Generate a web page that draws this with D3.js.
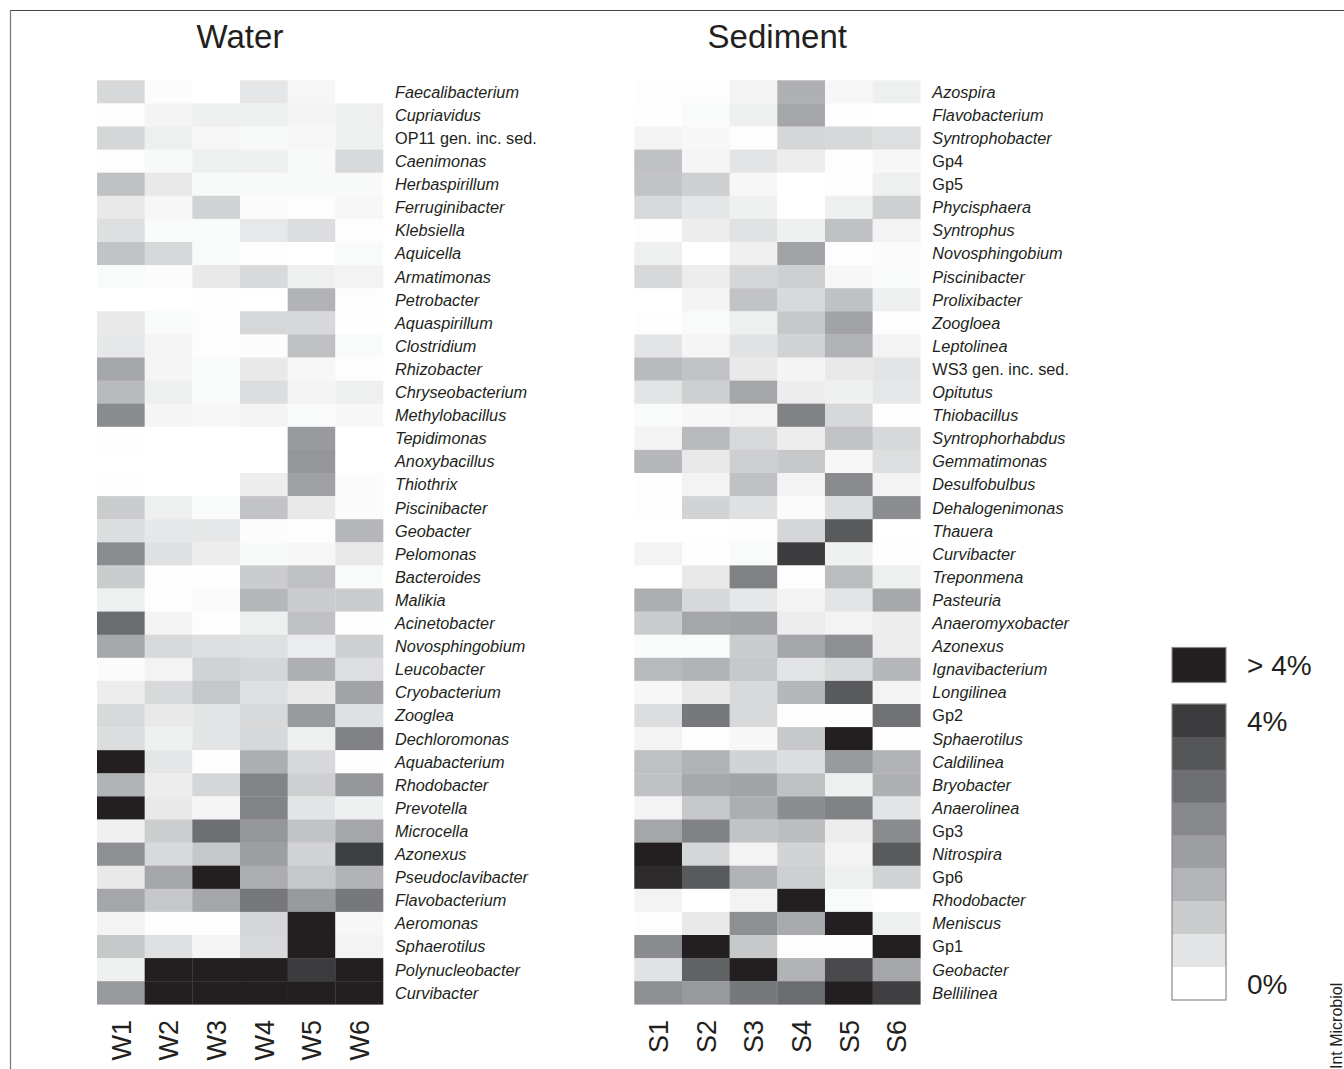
<!DOCTYPE html>
<html>
<head>
<meta charset="utf-8">
<script src="https://cdn.jsdelivr.net/npm/d3@7"></script>
<style>
  body { margin: 0; background: #fff; }
  svg { display: block; font-family: "Liberation Sans", Arial, Helvetica, sans-serif; }
  .row-label { font-size: 16.3px; fill: #231f20; }
  .col-label { font-size: 27px; fill: #231f20; }
  .title { font-size: 33px; fill: #231f20; }
  .legend-label { font-size: 28px; fill: #231f20; }
</style>
</head>
<body>
<svg class="chart"></svg>
<script>
var width = 1344;
var height = 1069;

// samples
var waterSamples = ["W1", "W2", "W3", "W4", "W5", "W6"];
var sedimentSamples = ["S1", "S2", "S3", "S4", "S5", "S6"];

// genera, top to bottom
var waterTaxa = ["Faecalibacterium", "Cupriavidus", "OP11 gen. inc. sed.", "Caenimonas", "Herbaspirillum",
    "Ferruginibacter", "Klebsiella", "Aquicella", "Armatimonas", "Petrobacter", "Aquaspirillum", "Clostridium",
    "Rhizobacter", "Chryseobacterium", "Methylobacillus", "Tepidimonas", "Anoxybacillus", "Thiothrix",
    "Piscinibacter", "Geobacter", "Pelomonas", "Bacteroides", "Malikia", "Acinetobacter", "Novosphingobium",
    "Leucobacter", "Cryobacterium", "Zooglea", "Dechloromonas", "Aquabacterium", "Rhodobacter", "Prevotella",
    "Microcella", "Azonexus", "Pseudoclavibacter", "Flavobacterium", "Aeromonas", "Sphaerotilus",
    "Polynucleobacter", "Curvibacter"];

var sedimentTaxa = ["Azospira", "Flavobacterium", "Syntrophobacter", "Gp4", "Gp5", "Phycisphaera", "Syntrophus",
    "Novosphingobium", "Piscinibacter", "Prolixibacter", "Zoogloea", "Leptolinea", "WS3 gen. inc. sed.",
    "Opitutus", "Thiobacillus", "Syntrophorhabdus", "Gemmatimonas", "Desulfobulbus", "Dehalogenimonas",
    "Thauera", "Curvibacter", "Treponmena", "Pasteuria", "Anaeromyxobacter", "Azonexus", "Ignavibacterium",
    "Longilinea", "Gp2", "Sphaerotilus", "Caldilinea", "Bryobacter", "Anaerolinea", "Gp3", "Nitrospira", "Gp6",
    "Rhodobacter", "Meniscus", "Gp1", "Geobacter", "Bellilinea"];

// names that are not set in italics
var plainNames = ["OP11 gen. inc. sed.", "WS3 gen. inc. sed.", "Gp1", "Gp2", "Gp3", "Gp4", "Gp5", "Gp6"];

// relative abundance (%), one row per genus, columns W1..W6
var waterValues = [
    [0.76, 0.06, 0, 0.47, 0.16, 0],
    [0.04, 0.2, 0.3, 0.3, 0.2, 0.3],
    [0.8, 0.3, 0.16, 0.12, 0.14, 0.28],
    [0.04, 0.12, 0.3, 0.28, 0.12, 0.72],
    [1.22, 0.4, 0.12, 0.12, 0.12, 0.12],
    [0.4, 0.14, 0.85, 0.08, 0.04, 0.14],
    [0.6, 0.1, 0.1, 0.43, 0.64, 0.04],
    [1.18, 0.76, 0.1, 0.04, 0, 0.1],
    [0.1, 0.06, 0.4, 0.72, 0.3, 0.22],
    [0, 0, 0.02, 0, 1.53, 0.04],
    [0.4, 0.1, 0.04, 0.78, 0.76, 0.02],
    [0.45, 0.18, 0.04, 0.06, 1.26, 0.1],
    [1.81, 0.18, 0.1, 0.4, 0.14, 0.04],
    [1.38, 0.3, 0.1, 0.64, 0.2, 0.3],
    [2.43, 0.18, 0.14, 0.2, 0.1, 0.14],
    [0.04, 0, 0, 0, 2.1, 0],
    [0, 0, 0, 0, 2.19, 0],
    [0.04, 0, 0, 0.33, 1.94, 0.08],
    [1.01, 0.3, 0.1, 1.18, 0.4, 0.08],
    [0.64, 0.45, 0.45, 0.06, 0.04, 1.44],
    [2.41, 0.58, 0.33, 0.12, 0.16, 0.4],
    [1.01, 0.04, 0.04, 1.01, 1.22, 0.1],
    [0.3, 0.02, 0.08, 1.44, 1.01, 0.99],
    [3.05, 0.2, 0.04, 0.3, 1.22, 0.02],
    [1.77, 0.72, 0.62, 0.58, 0.35, 0.93],
    [0.08, 0.22, 0.87, 0.8, 1.59, 0.62],
    [0.33, 0.72, 1.11, 0.58, 0.4, 1.88],
    [0.72, 0.4, 0.5, 0.72, 2.1, 0.58],
    [0.64, 0.3, 0.5, 0.76, 0.3, 2.62],
    [6, 0.47, 0.04, 1.63, 0.76, 0.02],
    [1.53, 0.33, 0.8, 2.6, 0.93, 2.19],
    [6, 0.4, 0.18, 2.6, 0.5, 0.28],
    [0.27, 0.97, 2.99, 2.19, 1.18, 1.81],
    [2.35, 0.72, 1.11, 2.0, 0.85, 3.95],
    [0.4, 1.81, 6, 1.67, 1.11, 1.53],
    [1.81, 1.11, 1.81, 2.8, 2.1, 2.8],
    [0.22, 0.04, 0.04, 0.8, 6, 0.14],
    [1.09, 0.58, 0.18, 0.72, 6, 0.22],
    [0.3, 6, 6, 6, 4.0, 6],
    [2.1, 6, 6, 6, 6, 6]
];

// columns S1..S6
var sedimentValues = [
    [0.04, 0.04, 0.22, 1.59, 0.14, 0.3],
    [0.02, 0.1, 0.3, 1.81, 0.04, 0],
    [0.22, 0.14, 0.04, 0.8, 0.76, 0.62],
    [1.22, 0.18, 0.5, 0.33, 0.04, 0.14],
    [1.18, 0.93, 0.14, 0, 0.04, 0.3],
    [0.72, 0.47, 0.28, 0, 0.3, 0.93],
    [0.04, 0.33, 0.54, 0.28, 1.22, 0.22],
    [0.3, 0, 0.27, 1.88, 0.04, 0.08],
    [0.76, 0.33, 0.8, 0.93, 0.14, 0.1],
    [0, 0.2, 1.18, 0.72, 1.22, 0.3],
    [0.04, 0.1, 0.3, 1.09, 1.88, 0.04],
    [0.5, 0.18, 0.54, 0.87, 1.55, 0.22],
    [1.38, 1.18, 0.4, 0.2, 0.4, 0.5],
    [0.5, 0.93, 1.81, 0.33, 0.28, 0.45],
    [0.1, 0.14, 0.22, 2.62, 0.76, 0.04],
    [0.22, 1.38, 0.72, 0.33, 1.18, 0.76],
    [1.44, 0.4, 0.93, 1.09, 0.14, 0.62],
    [0.04, 0.22, 1.22, 0.22, 2.43, 0.22],
    [0.04, 0.85, 0.58, 0.08, 0.64, 2.39],
    [0, 0, 0.04, 0.8, 3.42, 0],
    [0.22, 0.04, 0.1, 4.0, 0.28, 0.04],
    [0, 0.4, 2.64, 0.04, 1.32, 0.3],
    [1.63, 0.76, 0.45, 0.22, 0.5, 1.77],
    [1.01, 1.81, 1.88, 0.33, 0.22, 0.33],
    [0.1, 0.1, 0.99, 1.81, 2.35, 0.33],
    [1.38, 1.53, 1.09, 0.5, 0.72, 1.44],
    [0.14, 0.4, 0.72, 1.44, 3.42, 0.22],
    [0.64, 2.8, 0.72, 0.04, 0.04, 2.93],
    [0.22, 0.04, 0.14, 1.09, 6, 0.02],
    [1.26, 1.55, 0.85, 0.64, 2.1, 1.55],
    [1.22, 1.77, 1.88, 1.26, 0.3, 1.59],
    [0.22, 1.09, 1.63, 2.39, 2.62, 0.5],
    [1.81, 2.62, 1.18, 1.32, 0.33, 2.43],
    [6, 0.8, 0.22, 0.85, 0.22, 3.42],
    [4.6, 3.42, 1.53, 0.93, 0.28, 0.85],
    [0.22, 0, 0.22, 6, 0.1, 0],
    [0.04, 0.4, 2.35, 1.73, 6, 0.3],
    [2.43, 6, 1.09, 0.04, 0.04, 6],
    [0.54, 3.26, 6, 1.53, 3.73, 1.81],
    [2.35, 2.1, 2.8, 3.05, 6, 3.94]
];

// legend steps (4% .. 0%) and their labels
var legendSteps = [4, 3.5, 3, 2.5, 2, 1.5, 1, 0.5, 0];
var legendLabels = ["> 4%", "4%", "0%"];

// grey ramp, white at 0 %, dark grey at 4 %, near-black above
var color = d3.scaleLinear()
    .domain([0, 0.5, 1, 1.5, 2, 2.5, 3, 3.5, 4, 5])
    .range(["#ffffff", "#e3e4e5", "#cbccce", "#b3b4b7", "#9d9ea1", "#87888b", "#6d6e71", "#555658", "#3c3c3e", "#231f20"])
    .clamp(true);

var chart = d3.select(".chart")
    .attr("width", width)
    .attr("height", height);

// frame lines top and left
chart.append("line")
    .attr("x1", 10).attr("x2", width).attr("y1", 10.5).attr("y2", 10.5)
    .attr("stroke", "#444").attr("stroke-width", 1.2);
chart.append("line")
    .attr("x1", 10.5).attr("x2", 10.5).attr("y1", 10).attr("y2", height)
    .attr("stroke", "#777").attr("stroke-width", 1.2);

var mapTop = 80.3, mapBottom = 1004.3;

function heatmap(x0, x1, title, samples, taxa, values) {
    var x = d3.scaleBand().domain(samples).range([x0, x1]);
    var y = d3.scaleBand().domain(taxa).range([mapTop, mapBottom]);
    var g = chart.append("g");

    g.append("text")
        .attr("class", "title")
        .attr("x", (x0 + x1) / 2)
        .attr("y", 48)
        .attr("text-anchor", "middle")
        .text(title);

    var cells = [];
    values.forEach(function(row, i) {
        row.forEach(function(v, j) {
            cells.push({taxon: taxa[i], sample: samples[j], value: v});
        });
    });

    g.selectAll("rect.cell")
        .data(cells)
        .enter()
        .append("rect")
        .attr("class", "cell")
        .attr("x", function(d) { return x(d.sample); })
        .attr("y", function(d) { return y(d.taxon); })
        .attr("width", x.bandwidth() + 0.3)
        .attr("height", y.bandwidth() + 0.3)
        .attr("fill", function(d) { return color(d.value); });

    g.selectAll("text.row-label")
        .data(taxa)
        .enter()
        .append("text")
        .attr("class", "row-label")
        .attr("x", x1 + 12)
        .attr("y", function(d) { return y(d) + y.bandwidth() / 2; })
        .attr("dy", "0.36em")
        .style("font-style", function(d) { return plainNames.indexOf(d) >= 0 ? "normal" : "italic"; })
        .text(function(d) { return d; });

    g.selectAll("text.col-label")
        .data(samples)
        .enter()
        .append("text")
        .attr("class", "col-label")
        .attr("transform", function(d) {
            return "translate(" + (x(d) + x.bandwidth() / 2) + ",1020) rotate(-90)";
        })
        .attr("dy", "0.36em")
        .attr("text-anchor", "end")
        .text(function(d) { return d; });
}

heatmap(97, 383, "Water", waterSamples, waterTaxa, waterValues);
heatmap(634.3, 920.3, "Sediment", sedimentSamples, sedimentTaxa, sedimentValues);

// legend
var lg = chart.append("g");
var lx = 1172, lw = 54;

lg.append("rect")
    .attr("x", lx).attr("y", 647.5).attr("width", lw).attr("height", 35)
    .attr("fill", color(6))
    .attr("stroke", "#8a8a8a").attr("stroke-width", 1.2);

var ly = d3.scaleBand().domain(legendSteps).range([704, 1000]);

lg.selectAll("rect.step")
    .data(legendSteps)
    .enter()
    .append("rect")
    .attr("class", "step")
    .attr("x", lx)
    .attr("y", function(d) { return ly(d); })
    .attr("width", lw)
    .attr("height", ly.bandwidth() + 0.3)
    .attr("fill", function(d) { return color(d); });

lg.append("rect")
    .attr("x", lx).attr("y", 704).attr("width", lw).attr("height", 296)
    .attr("fill", "none")
    .attr("stroke", "#8a8a8a").attr("stroke-width", 1.2);

lg.append("text").attr("class", "legend-label")
    .attr("x", 1247).attr("y", 665).attr("dy", "0.36em")
    .text(legendLabels[0]);
lg.append("text").attr("class", "legend-label")
    .attr("x", 1247).attr("y", ly(4) + ly.bandwidth() / 2).attr("dy", "0.36em")
    .text(legendLabels[1]);
lg.append("text").attr("class", "legend-label")
    .attr("x", 1247).attr("y", ly(0) + ly.bandwidth() / 2).attr("dy", "0.36em")
    .text(legendLabels[2]);

// journal tag
chart.append("text")
    .attr("transform", "translate(1342,1069) rotate(-90)")
    .attr("text-anchor", "start")
    .style("font-size", "16px")
    .attr("fill", "#231f20")
    .text("Int Microbiol");
</script>
</body>
</html>
